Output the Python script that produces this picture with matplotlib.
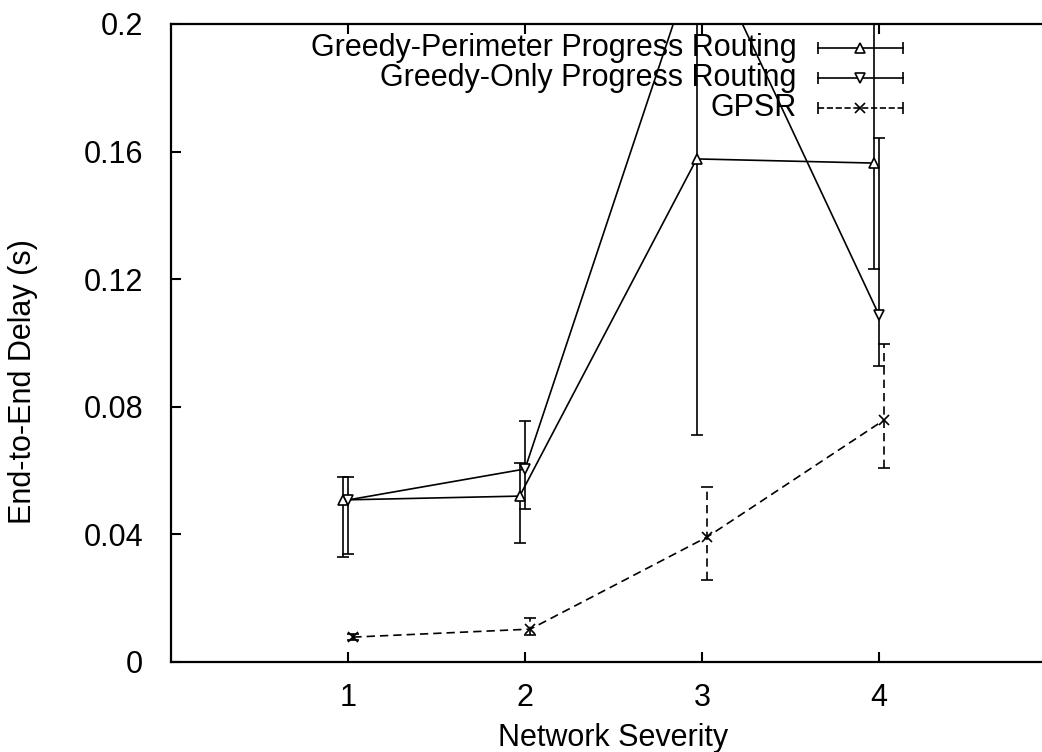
import matplotlib.pyplot as plt
from matplotlib import rcParams

rcParams.update({
    "font.family": ["Liberation Sans", "DejaVu Sans"],
    "font.size": 22,
})

severity = [1, 2, 3, 4]
series_names = ['Greedy-Perimeter Progress Routing',
                'Greedy-Only Progress Routing',
                'GPSR']

# small x offsets so the bars don't sit on top of each other
x_shift = [-0.03, 0.0, 0.03]

gpr_delay = [0.0508, 0.0520, 0.1577, 0.1564]
gpr_low = [0.0329, 0.0373, 0.0712, 0.1232]
gpr_high = [0.0580, 0.0624, 0.2440, 0.2240]

gopr_delay = [0.0508, 0.0605, 0.2270, 0.1088]
gopr_low = [0.0339, 0.0480, 0.2100, 0.0928]
gopr_high = [0.0580, 0.0755, 0.2400, 0.1643]

gpsr_delay = [0.0078, 0.0103, 0.0392, 0.0759]
gpsr_low = [0.0068, 0.0085, 0.0257, 0.0608]
gpsr_high = [0.0088, 0.0138, 0.0549, 0.0997]

y_ticks = [0, 0.04, 0.08, 0.12, 0.16, 0.2]
y_tick_labels = ['0', '0.04', '0.08', '0.12', '0.16', '0.2']

fig = plt.figure(figsize=(10.42, 7.52), dpi=100)
# plot box runs past the right border (the original scan is cropped)
ax = fig.add_axes([0.1641, 0.1197, 0.8493, 0.8484])

data = [(gpr_delay, gpr_low, gpr_high), (gopr_delay, gopr_low, gopr_high),
        (gpsr_delay, gpsr_low, gpsr_high)]
markers = ['^', 'v', 'x']
styles = ['-', '-', '--']

for (vals, lo, hi), shift, mk, ls in zip(data, x_shift, markers, styles):
    xs = [s + shift for s in severity]
    err = [[v - l for v, l in zip(vals, lo)], [h - v for v, h in zip(vals, hi)]]
    line, caps, bars = ax.errorbar(xs, vals, yerr=err, color='black', linestyle=ls,
                                   linewidth=1.2, marker=mk, markersize=7,
                                   markerfacecolor='white', markeredgewidth=1.2,
                                   capsize=4.5, elinewidth=1.2, capthick=1.2)
    if ls == '--':
        line.set_dashes((5, 3))
        for b in bars:
            b.set_linestyle((0, (5, 3)))

# gnuplot style key: right-aligned text, sample line with end caps
key_y = [0.962, 0.915, 0.868]
for name, mk, ls, ky in zip(series_names, markers, styles, key_y):
    ax.text(0.707, ky, name, transform=ax.transAxes, ha='right', va='center')
    ax.plot([0.731, 0.827], [ky, ky], transform=ax.transAxes, color='black',
            linestyle=ls, linewidth=1.2, clip_on=False)
    ax.plot([0.731, 0.827], [ky, ky], transform=ax.transAxes, color='black',
            linestyle='none', marker='|', markersize=9, markeredgewidth=1.2, clip_on=False)
    ax.plot([0.7785], [ky], transform=ax.transAxes, color='black', linestyle='none',
            marker=mk, markersize=7, markerfacecolor='white', markeredgewidth=1.2,
            clip_on=False)

ax.set_xlim(0, 5)
ax.set_ylim(0, 0.2)
ax.set_xticks(severity)
ax.set_yticks(y_ticks, y_tick_labels)
ax.tick_params(direction='in', top=True, right=True, length=7, width=1.5)
ax.tick_params(axis='y', pad=20)
ax.tick_params(axis='x', pad=15)
for sp in ax.spines.values():
    sp.set_linewidth(1.6)

ax.set_xlabel('Network Severity', labelpad=7)
ax.set_ylabel('End-to-End Delay (s)')
ax.yaxis.set_label_coords(-0.150, 0.44)

fig.savefig('out.png', dpi=100)
